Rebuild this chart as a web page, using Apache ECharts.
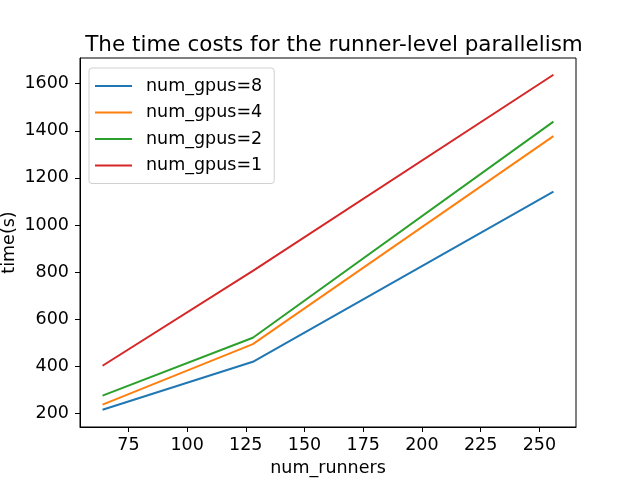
<!DOCTYPE html>
<html lang="en">

<head>
    <meta charset="UTF-8">
    <title>runner-level parallelism</title>
    <script src="https://cdn.jsdelivr.net/npm/echarts@6/dist/echarts.min.js"></script>
    <style>
        body {
            margin: 0;
        }

        #app {
            width: 640px;
            height: 480px;
        }
    </style>
</head>

<body>
    <div id="app"></div>
    <script>
        // data
        let runners = [64, 128, 256]
        let gpus8 = [215, 419, 1142]
        let gpus4 = [237, 494, 1377]
        let gpus2 = [275, 521, 1439]
        let gpus1 = [402, 805, 1638]
        let xTicks = [75, 100, 125, 150, 175, 200, 225, 250]
        let yTicks = [200, 400, 600, 800, 1000, 1200, 1400, 1600]

        let names = ['num_gpus=8', 'num_gpus=4', 'num_gpus=2', 'num_gpus=1']
        let colors = ['#1f77b4', '#ff7f0e', '#2ca02c', '#d62728']
        let values = [gpus8, gpus4, gpus2, gpus1]

        let font = 'DejaVu Sans'
        let mCharts = echarts.init(document.getElementById('app'))

        let series = names.map((n, i) => ({
            name: n,
            type: 'line',
            symbol: 'none',
            data: runners.map((x, j) => [x, values[i][j]]),
            lineStyle: { width: 2, color: colors[i] },
            itemStyle: { color: colors[i] }
        }))

        let axisCommon = {
            axisLine: { show: true, lineStyle: { color: '#000', width: 1 } },
            axisTick: { show: true, inside: false, length: 5, lineStyle: { color: '#000' } },
            splitLine: { show: false },
            axisLabel: { color: '#000', fontFamily: font, fontSize: 17.5, formatter: v => String(v) },
            nameTextStyle: { color: '#000', fontFamily: font, fontSize: 17.5 },
            nameMoveOverlap: false
        }

        let option = {
            backgroundColor: '#fff',
            animation: false,
            title: {
                text: 'The time costs for the runner-level parallelism',
                left: 329,
                top: 29,
                textAlign: 'center',
                textStyle: { fontFamily: font, fontSize: 21.5, fontWeight: 'normal', color: '#000' }
            },
            legend: {
                orient: 'vertical',
                left: 89,
                top: 68,
                data: names,
                icon: 'rect',
                itemWidth: 37,
                itemHeight: 2,
                itemGap: 8.5,
                padding: [9, 12, 9, 6],
                backgroundColor: 'rgba(255,255,255,0.8)',
                borderColor: '#d0d0d0',
                borderWidth: 1,
                borderRadius: 3,
                textStyle: { fontFamily: font, fontSize: 17.5, color: '#000', padding: [0, 0, 0, 9], lineHeight: 18 }
            },
            grid: {
                left: 80,
                right: 64,
                top: 58,
                bottom: 53,
                outerBoundsMode: 'none',
                show: true,
                borderColor: '#000',
                borderWidth: 1
            },
            xAxis: Object.assign({}, axisCommon, {
                type: 'value',
                min: 54.4,
                max: 265.6,
                name: 'num_runners',
                nameLocation: 'middle',
                nameGap: 32,
                axisTick: Object.assign({}, axisCommon.axisTick, { customValues: xTicks }),
                axisLabel: Object.assign({}, axisCommon.axisLabel, { customValues: xTicks, margin: 9 })
            }),
            yAxis: Object.assign({}, axisCommon, {
                type: 'value',
                min: 142,
                max: 1709,
                name: 'time(s)',
                nameLocation: 'middle',
                nameGap: 62,
                axisTick: Object.assign({}, axisCommon.axisTick, { customValues: yTicks }),
                axisLabel: Object.assign({}, axisCommon.axisLabel, { customValues: yTicks, margin: 11 })
            }),
            series: series
        }
        mCharts.setOption(option)
    </script>
</body>

</html>
